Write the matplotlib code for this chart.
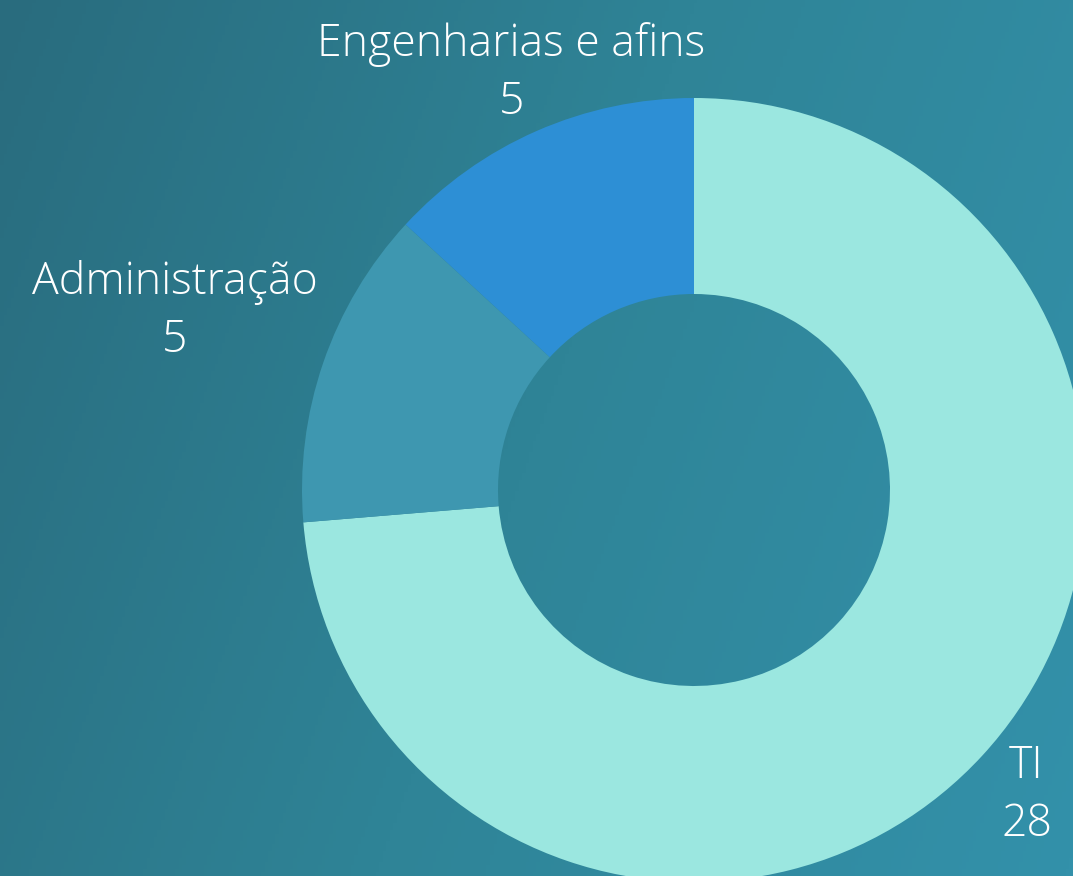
import matplotlib
matplotlib.use("Agg")
import matplotlib.pyplot as plt
from matplotlib.colors import LinearSegmentedColormap
import numpy as np

categories = ["TI", "Administração", "Engenharias e afins"]
values = [28, 5, 5]
colors = ["#9be7e0", "#3e97b0", "#2d8fd5"]
label_dist = [452, 549, 455]  # label distance from centre, px

W, H = 1073, 876
cx, cy = 694, H - 490
r_out, r_in = 392, 196

fig = plt.figure(figsize=(W / 100, H / 100), dpi=100)
ax = fig.add_axes([0, 0, 1, 1])

# diagonal background gradient
xx, yy = np.meshgrid(np.linspace(0, 1, 300), np.linspace(0, 1, 250))
t = (xx * 1.0 + yy * 0.3) / 1.3
bg = LinearSegmentedColormap.from_list("bg", ["#296c7e", "#2f8497", "#3391aa"])
ax.imshow(t, cmap=bg, extent=[0, W, 0, H], origin="upper", aspect="auto", zorder=0)

wedges, _ = ax.pie(values, colors=colors, startangle=90, counterclock=False,
                   radius=r_out, center=(cx, cy),
                   wedgeprops=dict(width=r_out - r_in, linewidth=0))
for w in wedges:
    w.set_zorder(2)

# data labels at slice mid-angles
total = sum(values)
start = 90.0
for cat, v, d in zip(categories, values, label_dist):
    span = 360.0 * v / total
    mid = np.deg2rad(start - span / 2)
    start -= span
    lx, ly = cx + d * np.cos(mid), cy + d * np.sin(mid)
    ax.text(lx, ly, f"{cat}\n{v}", ha="center", va="center", color="white",
            fontsize=32, family=["Open Sans", "DejaVu Sans"], fontweight=300,
            linespacing=1.4, zorder=3)

ax.set_xlim(0, W)
ax.set_ylim(0, H)
ax.set_aspect("equal")
ax.axis("off")
fig.savefig("out.png", dpi=100)
